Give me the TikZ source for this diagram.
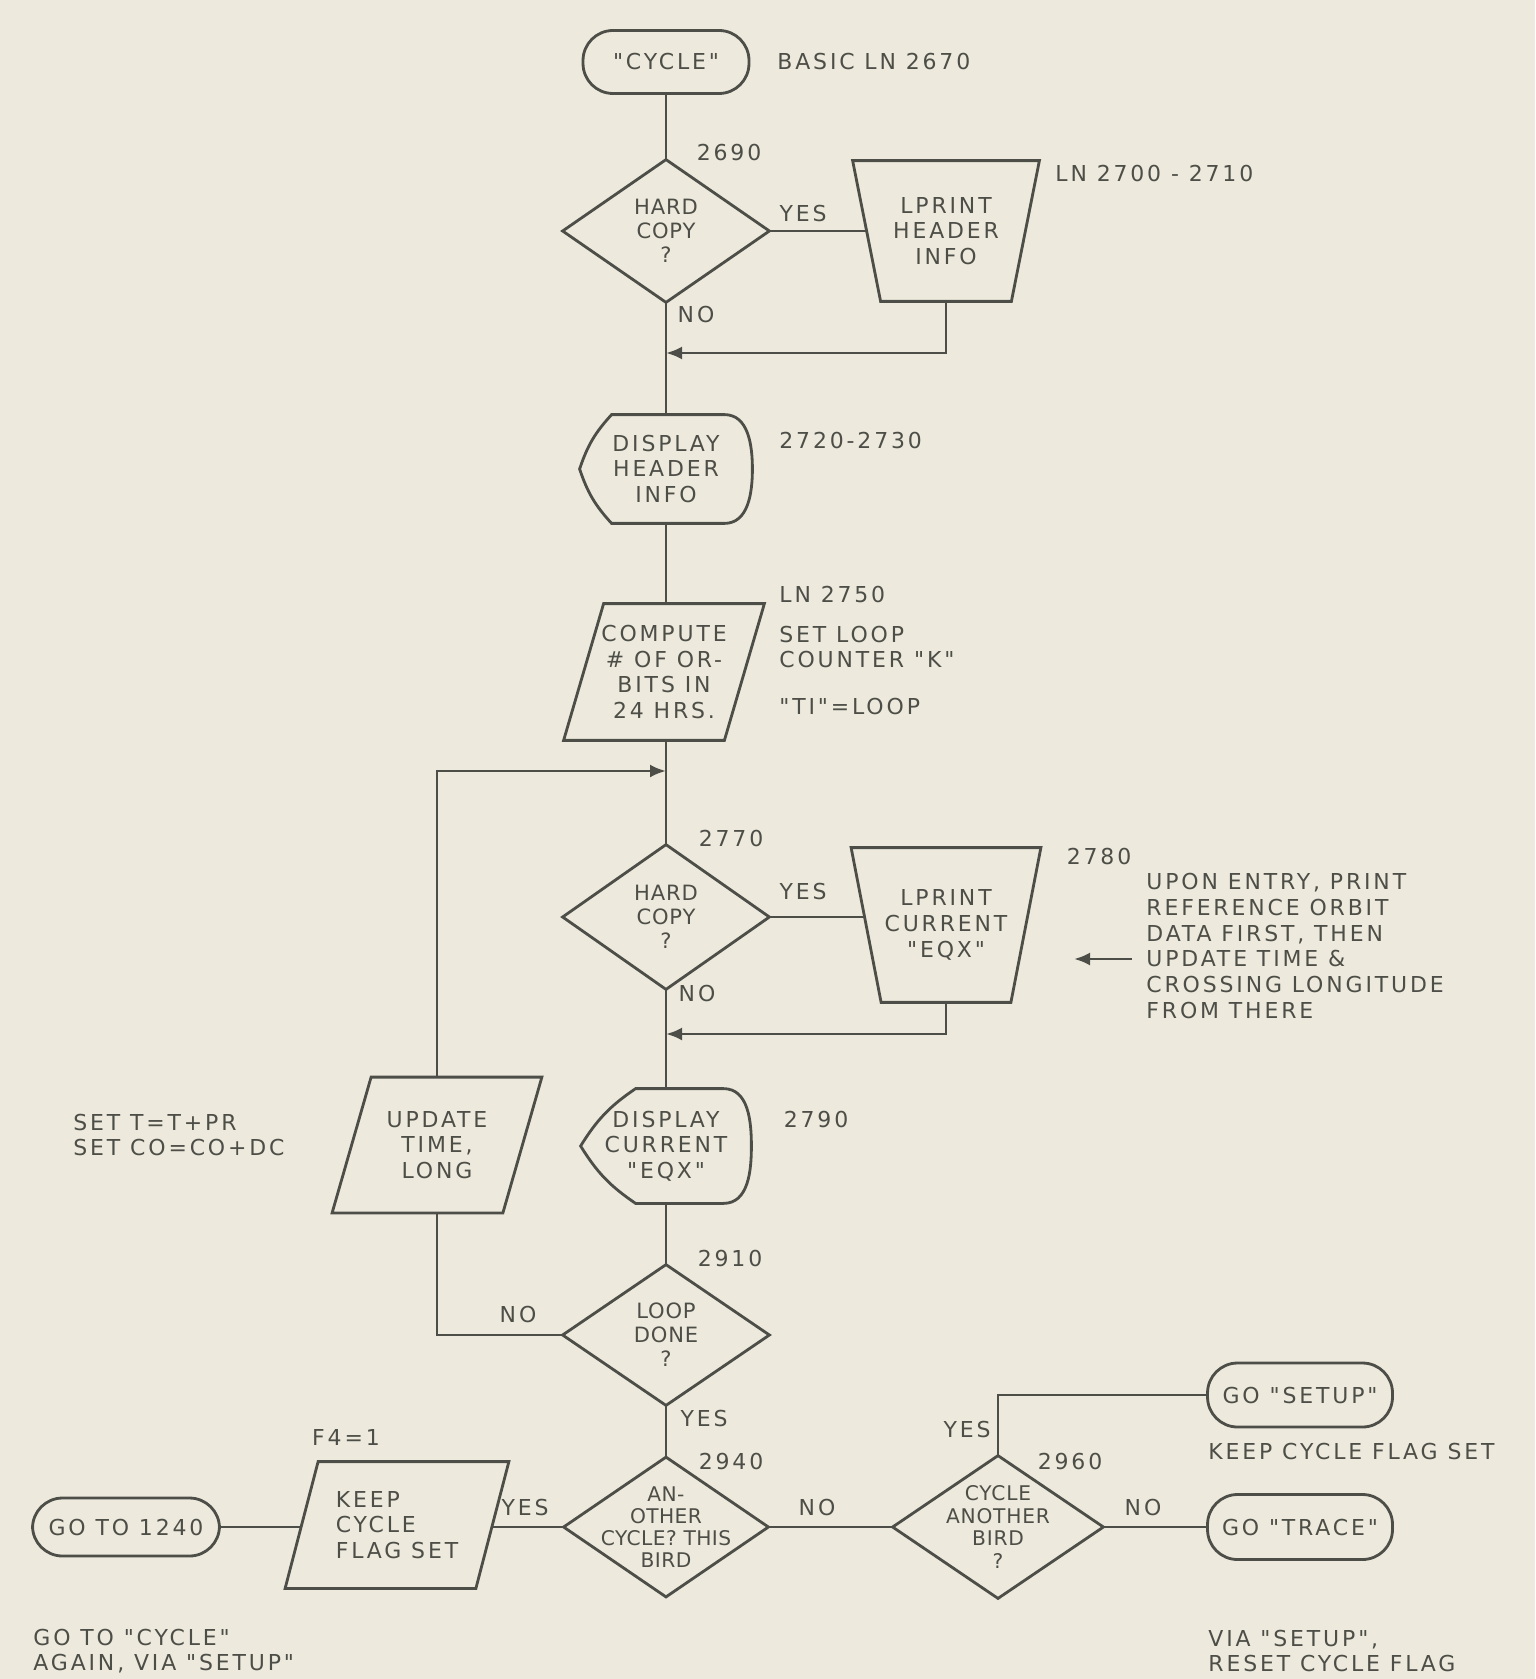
\documentclass[tikz,border=0pt]{standalone}
\usepackage{fontspec}
\setmainfont{DejaVu Sans}[LetterSpace=13,Ligatures=TeXOff]
\usetikzlibrary{arrows.meta}
\definecolor{paper}{RGB}{237,234,221}
\definecolor{ink}{RGB}{78,78,72}
\newcommand{\flowfont}{\fontsize{12.5}{14.6}\selectfont}
\newcommand{\tightfont}{\fontsize{12}{13.6}\selectfont\addfontfeature{LetterSpace=4}}
% outlines drawn round plain nodes
\newcommand{\decshape}[1]{%
  \draw (#1.west) -- (#1.north) -- (#1.east) -- (#1.south) -- cycle;}
\newcommand{\prtshape}[2]{%
  \draw (#1.north west) -- (#1.north east) -- ([xshift=-#2]#1.south east)
    -- ([xshift=#2]#1.south west) -- cycle;}
\newcommand{\ioshape}[2]{%
  \draw ([xshift=#2]#1.north west) -- (#1.north east) -- ([xshift=-#2]#1.south east)
    -- (#1.south west) -- cycle;}
\newcommand{\dispshape}[2]{%
  \draw (#1.west) to[bend left=12] ([xshift=#2]#1.north west) -- ([xshift=-0.56cm]#1.north east)
    to[out=0,in=90] (#1.east) to[out=-90,in=0] ([xshift=-0.56cm]#1.south east)
    -- ([xshift=#2]#1.south west) to[bend left=12] cycle;}

\begin{document}
\begin{tikzpicture}[x=0.02cm,y=-0.02cm,line width=1.6pt,color=ink,font=\flowfont,
  >={Latex[length=0.32cm,width=0.26cm]},
  term/.style={draw,rounded corners=0.6cm,minimum height=1.26cm,inner sep=2pt},
  dec/.style={inner sep=0pt,align=center,font=\tightfont},
  box/.style={inner sep=0pt,align=center},
  lbl/.style={inner sep=0pt},
  note/.style={anchor=west,align=left,inner sep=0pt}]

  \fill[paper] (0,0) rectangle (1535,1679);
  \useasboundingbox (0,0) rectangle (1535,1679);

  % main column
  \node[term,minimum width=3.32cm] (start) at (666,62) {"CYCLE"};
  \node[note] (l2670) at (776,62) {BASIC LN 2670};
  \node[lbl] (l2690) at (729,153) {2690};
  \node[dec,minimum width=4.08cm,minimum height=2.8cm] (hc1) at (666,231) {HARD\\COPY\\?};
  \decshape{hc1}
  \node[lbl] (y1) at (803,214) {YES};
  \node[box,minimum width=3.68cm,minimum height=2.76cm] (pr1) at (946,231) {LPRINT\\HEADER\\INFO};
  \prtshape{pr1}{0.56cm}
  \coordinate (pr1in) at ([xshift=0.28cm]pr1.west);
  \node[note] (l2700) at (1054,174) {LN 2700 - 2710};
  \node[lbl] (n1) at (696,315) {NO};
  \coordinate (j1) at (666,353);

  \node[box,minimum width=3.4cm,minimum height=2.12cm] (d1) at (666,469) {DISPLAY\\HEADER\\INFO};
  \dispshape{d1}{0.64cm}
  \node[note] (l2720) at (778,441) {2720-2730};

  \node[box,minimum width=3.96cm,minimum height=2.68cm] (comp) at (664,672) {COMPUTE\\\# OF OR-\\BITS IN\\24 HRS.};
  \ioshape{comp}{0.8cm}
  \node[note] (l2750) at (778,595) {LN 2750};
  \node[note] (lk) at (778,647) {SET LOOP\\COUNTER "K"};
  \node[note] (lti) at (778,706) {"TI"=LOOP};
  \coordinate (j2) at (666,771);

  \node[lbl] (l2770) at (731,838) {2770};
  \node[dec,minimum width=4.08cm,minimum height=2.84cm] (hc2) at (666,917) {HARD\\COPY\\?};
  \decshape{hc2}
  \node[lbl] (y2) at (803,891) {YES};
  \node[box,minimum width=3.74cm,minimum height=3.04cm] (pr2) at (946,925) {LPRINT\\CURRENT\\"EQX"};
  \prtshape{pr2}{0.6cm}
  \coordinate (pr2in) at ([xshift=0.3cm]pr2.west);
  \node[lbl] (l2780) at (1099,856) {2780};
  \node[note] (upon) at (1145,946) {UPON ENTRY, PRINT\\REFERENCE ORBIT\\DATA FIRST, THEN\\UPDATE TIME \&\\CROSSING LONGITUDE\\FROM THERE};
  \coordinate (ntail) at (1132,959);
  \coordinate (nhead) at (1074,959);
  \node[lbl] (n2) at (697,993) {NO};
  \coordinate (j3) at (666,1034);

  \node[box,minimum width=3.36cm,minimum height=2.24cm] (d2) at (666,1146) {DISPLAY\\CURRENT\\"EQX"};
  \dispshape{d2}{1.1cm}
  \node[lbl] (l2790) at (816,1119) {2790};

  \node[box,minimum width=4.14cm,minimum height=2.66cm] (upd) at (437,1145) {UPDATE\\TIME,\\LONG};
  \ioshape{upd}{0.78cm}
  \node[note] (lset) at (72,1135) {SET T=T+PR\\SET CO=CO+DC};

  \node[lbl] (l2910) at (730,1258) {2910};
  \node[dec,minimum width=4.08cm,minimum height=2.76cm] (loop) at (666,1335) {LOOP\\DONE\\?};
  \decshape{loop}
  \node[lbl] (n3) at (518,1314) {NO};
  \node[lbl] (y3) at (704,1418) {YES};

  % bottom row
  \node[lbl] (l2940) at (731,1461) {2940};
  \node[dec,minimum width=4.04cm,minimum height=2.74cm,font=\fontsize{11.5}{12.6}\selectfont\addfontfeature{LetterSpace=2}] (anoth) at (666,1527) {AN-\\OTHER\\CYCLE? THIS\\BIRD};
  \decshape{anoth}
  \node[lbl] (y4) at (525,1507) {YES};
  \node[box,minimum width=4.42cm,minimum height=2.48cm,align=left] (keep) at (397,1525) {KEEP\\CYCLE\\FLAG SET};
  \ioshape{keep}{0.66cm}
  \coordinate (keepR) at ([xshift=-0.33cm]keep.east);
  \coordinate (keepL) at ([xshift=0.33cm]keep.west);
  \node[lbl] (lf4) at (346,1437) {F4=1};
  \node[term,minimum width=3.74cm,minimum height=1.16cm] (go1240) at (126,1527) {GO TO 1240};
  \node[note] (lagain) at (32,1651) {GO TO "CYCLE"\\AGAIN, VIA "SETUP"};

  \node[lbl] (n4) at (817,1507) {NO};
  \node[dec,minimum width=4.16cm,minimum height=2.8cm,font=\fontsize{11.5}{12.8}\selectfont\addfontfeature{LetterSpace=4}] (cab) at (998,1527) {CYCLE\\ANOTHER\\BIRD\\?};
  \decshape{cab}
  \node[lbl] (l2960) at (1070,1461) {2960};
  \node[lbl] (y5) at (967,1429) {YES};
  \node[term,minimum width=3.7cm,minimum height=1.28cm] (setup) at (1300,1395) {GO "SETUP"};
  \node[note] (lkeep) at (1207,1451) {KEEP CYCLE FLAG SET};
  \node[lbl] (n5) at (1143,1507) {NO};
  \node[term,minimum width=3.7cm,minimum height=1.3cm] (trace) at (1300,1527) {GO "TRACE"};
  \node[note] (lvia) at (1207,1651) {VIA "SETUP",\\RESET CYCLE FLAG};

  % connectors
  \draw (start.south) -- (hc1.north);
  \draw (hc1.east) -- (hc1.east -| pr1in);
  \draw (hc1.south) -- (d1.north);
  \draw[->] (pr1.south) |- (j1);
  \draw (d1.south) -- (d1.south |- comp.north);
  \draw (hc2.north |- comp.south) -- (hc2.north);
  \draw[->] (upd.north) |- (j2);
  \draw (hc2.east) -- (hc2.east -| pr2in);
  \draw (hc2.south) -- (d2.north);
  \draw[->] (pr2.south) |- (j3);
  \draw[->] (ntail) -- (nhead);
  \draw (d2.south) -- (loop.north);
  \draw (loop.west) -| (upd.south);
  \draw (loop.south) -- (anoth.north);
  \draw (anoth.west) -- (anoth.west -| keepR);
  \draw (keepL |- go1240.east) -- (go1240.east);
  \draw (anoth.east) -- (cab.west);
  \draw (cab.north) |- (setup.west);
  \draw (cab.east) -- (trace.west);
\end{tikzpicture}
\end{document}
